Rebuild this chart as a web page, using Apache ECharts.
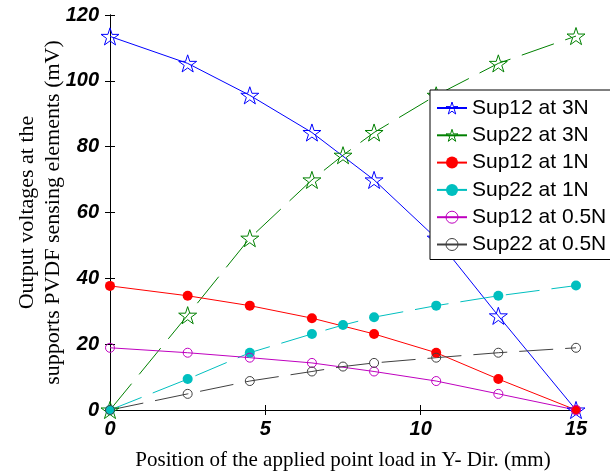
<!DOCTYPE html>
<html>
<head>
<meta charset="utf-8">
<script src="https://cdn.jsdelivr.net/npm/echarts@6/dist/echarts.min.js"></script>
<style>html,body{margin:0;padding:0;background:#fff}#c{width:610px;height:472px}</style>
</head>
<body>
<div id="c"></div>
<script>
var xSup12 = [0, 2.5, 4.5, 6.5, 8.5, 10.5, 12.5, 15];
var xSup22 = [0, 2.5, 4.5, 6.5, 7.5, 8.5, 10.5, 12.5, 15];
var sup12_3N = [113.5, 105.3, 95.6, 84.3, 69.9, 52.2, 28.6, 0];
var sup22_3N = [0, 28.8, 52.2, 69.9, 77.4, 84.3, 95.6, 105.3, 113.6];
var sup12_1N = [37.7, 34.7, 31.7, 27.9, 23.1, 17.4, 9.4, 0];
var sup22_1N = [0, 9.4, 17.4, 23.1, 25.8, 28.2, 31.7, 34.7, 37.8];
var sup12_05N = [18.9, 17.4, 15.9, 14.3, 11.7, 8.8, 4.9, 0];
var sup22_05N = [0, 4.9, 8.8, 11.7, 13.2, 14.3, 15.9, 17.4, 18.9];
var seriesNames = ['Sup12 at 3N', 'Sup22 at 3N', 'Sup12 at 1N', 'Sup22 at 1N', 'Sup12 at 0.5N', 'Sup22 at 0.5N'];
var xTicks = [0, 5, 10, 15];
var yTicks = [0, 20, 40, 60, 80, 100, 120];
var xTitle = 'Position of the applied point load in Y- Dir. (mm)';
var yTitle = 'Output voltages at the\nsupports PVDF sensing elements (mV)';

function pairs(xs, ys) { return xs.map(function (x, i) { return [x, ys[i]]; }); }
var star = 'path://M50 0 L61.23 34.55 L97.55 34.55 L68.17 55.9 L79.39 90.45 L50 69.1 L20.61 90.45 L31.83 55.9 L2.45 34.55 L38.77 34.55 Z';
var dash = [34, 12];
var colors = ['#0000ff', '#008000', '#ff0000', '#00bfbf', '#bf00bf', '#404040'];
var filledFlags = [false, false, true, true, false, false];

function mk(i, xs, ys, symbol, size, dashed) {
  var color = colors[i], filled = filledFlags[i];
  return {
    name: seriesNames[i], type: 'line', data: pairs(xs, ys),
    symbol: symbol, symbolSize: size, symbolKeepAspect: true, showAllSymbol: true,
    lineStyle: { color: color, width: 1, type: dashed ? dash : 'solid' },
    itemStyle: { color: filled ? color : 'rgba(255,255,255,0)', borderColor: color, borderWidth: filled ? 0 : 1 },
    emphasis: { disabled: true }, animation: false
  };
}

var legendData = seriesNames.map(function (n, i) {
  return filledFlags[i] ? { name: n } :
    { name: n, itemStyle: { color: 'rgba(255,255,255,0)', borderColor: colors[i], borderWidth: 1 } };
});

var chart = echarts.init(document.getElementById('c'), null, { renderer: 'canvas' });
var axisLineStyle = { lineStyle: { color: '#000', width: 1 } };
chart.setOption({
  animation: false,
  grid: { left: 110, right: 34, top: 15, bottom: 62, containLabel: false, outerBoundsMode: 'none' },
  legend: {
    orient: 'vertical', left: 430, top: 90,
    data: legendData,
    backgroundColor: '#fff', borderColor: '#000', borderWidth: 1, borderRadius: 0,
    padding: [7, 6, 4, 6],
    itemWidth: 30, itemHeight: 15, itemGap: 5.3,
    textStyle: { fontFamily: 'Liberation Sans', fontSize: 21, lineHeight: 22, color: '#000' }
  },
  xAxis: [{
    type: 'value', min: 0, max: 15, interval: 5,
    axisLine: axisLineStyle, axisTick: { inside: true, length: 5, lineStyle: { color: '#000' } },
    splitLine: { show: false },
    axisLabel: { margin: 9, fontFamily: 'Liberation Sans', fontSize: 20, fontWeight: 'bold', fontStyle: 'italic', color: '#000',
      formatter: function (v) { return xTicks.indexOf(v) >= 0 ? String(v) : ''; } },
    name: xTitle, nameLocation: 'middle', nameGap: 40, nameMoveOverlap: false,
    nameTextStyle: { fontFamily: 'Liberation Serif', fontSize: 21, color: '#000' }
  }, {
    type: 'value', position: 'top', min: 0, max: 15, interval: 5,
    axisLine: axisLineStyle, axisTick: { inside: true, length: 5, lineStyle: { color: '#000' } },
    axisLabel: { show: false }, splitLine: { show: false }
  }],
  yAxis: [{
    type: 'value', min: 0, max: 120, interval: 20,
    axisLine: axisLineStyle, axisTick: { inside: true, length: 5, lineStyle: { color: '#000' } },
    splitLine: { show: false },
    axisLabel: { margin: 11, fontFamily: 'Liberation Sans', fontSize: 20, fontWeight: 'bold', fontStyle: 'italic', color: '#000',
      formatter: function (v) { return yTicks.indexOf(v) >= 0 ? String(v) : ''; } },
    name: yTitle, nameLocation: 'middle', nameGap: 44, nameRotate: 90, nameMoveOverlap: false,
    nameTextStyle: { fontFamily: 'Liberation Serif', fontSize: 22, lineHeight: 26, color: '#000', align: 'center' }
  }, {
    type: 'value', position: 'right', min: 0, max: 120, interval: 20,
    axisLine: axisLineStyle, axisTick: { inside: true, length: 5, lineStyle: { color: '#000' } },
    axisLabel: { show: false }, splitLine: { show: false }
  }],
  series: [
    mk(0, xSup12, sup12_3N, star, 18, false),
    mk(1, xSup22, sup22_3N, star, 18, true),
    mk(2, xSup12, sup12_1N, 'circle', 10, false),
    mk(3, xSup22, sup22_1N, 'circle', 10, true),
    mk(4, xSup12, sup12_05N, 'circle', 9, false),
    mk(5, xSup22, sup22_05N, 'circle', 9, true)
  ]
});
</script>
</body>
</html>
